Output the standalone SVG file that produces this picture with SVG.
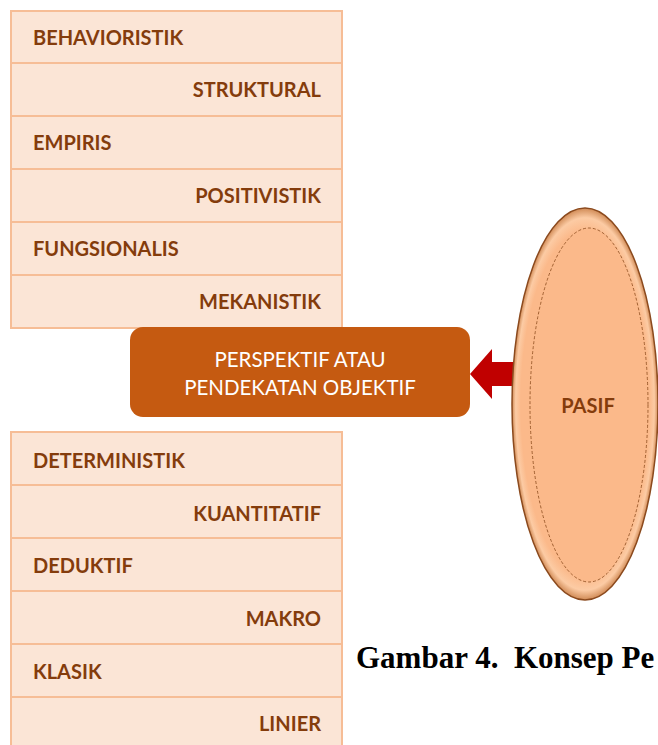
<svg xmlns="http://www.w3.org/2000/svg" width="658" height="745" viewBox="0 0 658 745">
<defs>
<style>
.row{fill:#FBE5D6;stroke:#F6BD96;stroke-width:2}
.lbl{font-family:Lato,"Open Sans",sans-serif;font-weight:bold;font-size:20px;fill:#843C0C}
.r{text-anchor:end}
.wt{font-family:Lato,"Open Sans",sans-serif;font-size:20.5px;fill:#FFFFFF;text-anchor:middle}
</style>
<radialGradient id="eg" cx="0.5" cy="0.5" r="0.5">
<stop offset="0.88" stop-color="#FBB98A"/>
<stop offset="0.95" stop-color="#FCCBA4"/>
<stop offset="1" stop-color="#D08A55"/>
</radialGradient>
</defs>
<rect width="658" height="745" fill="#FFFFFF"/>
<g id="top-list">
<g id="behavioristik"><rect class="row" x="11" y="11" width="331" height="52"/><text class="lbl" x="33" y="45">BEHAVIORISTIK</text></g>
<g id="struktural"><rect class="row" x="11" y="63" width="331" height="53"/><text class="lbl r" x="321" y="97">STRUKTURAL</text></g>
<g id="empiris"><rect class="row" x="11" y="116" width="331" height="53"/><text class="lbl" x="33" y="150">EMPIRIS</text></g>
<g id="positivistik"><rect class="row" x="11" y="169" width="331" height="53"/><text class="lbl r" x="321" y="203">POSITIVISTIK</text></g>
<g id="fungsionalis"><rect class="row" x="11" y="222" width="331" height="53"/><text class="lbl" x="33" y="256">FUNGSIONALIS</text></g>
<g id="mekanistik"><rect class="row" x="11" y="275" width="331" height="53"/><text class="lbl r" x="321" y="309">MEKANISTIK</text></g>
</g>
<g id="bottom-list">
<g id="deterministik"><rect class="row" x="11" y="432" width="331" height="53"/><text class="lbl" x="33" y="468">DETERMINISTIK</text></g>
<g id="kuantitatif"><rect class="row" x="11" y="485" width="331" height="53"/><text class="lbl r" x="321" y="521">KUANTITATIF</text></g>
<g id="deduktif"><rect class="row" x="11" y="538" width="331" height="53"/><text class="lbl" x="33" y="573">DEDUKTIF</text></g>
<g id="makro"><rect class="row" x="11" y="591" width="331" height="53"/><text class="lbl r" x="321" y="626">MAKRO</text></g>
<g id="klasik"><rect class="row" x="11" y="644" width="331" height="53"/><text class="lbl" x="33" y="679">KLASIK</text></g>
<g id="linier"><rect class="row" x="11" y="697" width="331" height="53"/><text class="lbl r" x="321" y="731">LINIER</text></g>
</g>
<g id="perspektif">
<rect x="130" y="327" width="340" height="90" rx="13" fill="#C55A11"/>
<text class="wt" x="300" y="367">PERSPEKTIF ATAU</text>
<text class="wt" x="300" y="395">PENDEKATAN OBJEKTIF</text>
</g>
<g id="connectors">
<polygon points="470,374 492,349 492,362 516,362 516,386 492,386 492,399" fill="#C00000"/>
</g>
<g id="pasif">
<ellipse cx="585" cy="404" rx="73" ry="196" fill="url(#eg)" stroke="#8B4A1E" stroke-width="1.5"/>
<ellipse cx="589" cy="405" rx="59" ry="177" fill="#FBB98A" stroke="#8A4A1C" stroke-width="0.8" stroke-dasharray="3,2"/>
<text class="lbl" x="588" y="413" text-anchor="middle">PASIF</text>
</g>
<text x="356" y="668" font-family="Liberation Serif,serif" font-weight="bold" font-size="31" fill="#000000" xml:space="preserve">Gambar 4.  Konsep Pe</text>
</svg>
